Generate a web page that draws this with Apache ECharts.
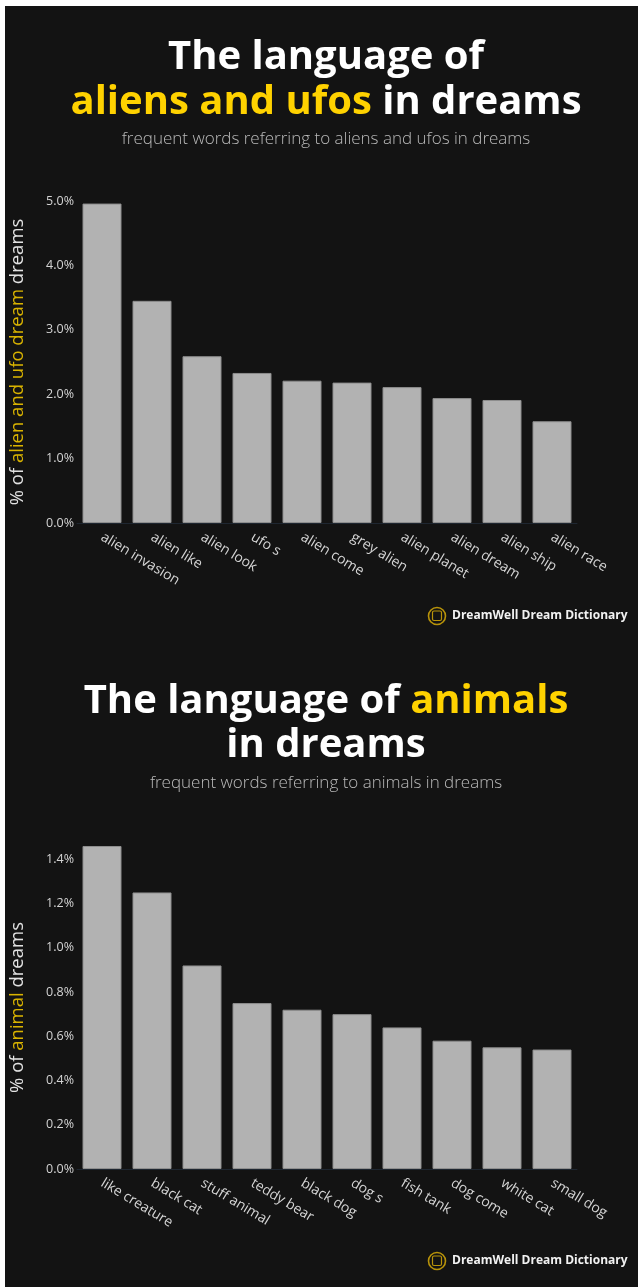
<!DOCTYPE html>
<html>
<head>
<meta charset="utf-8">
<script src="https://cdn.jsdelivr.net/npm/echarts@6/dist/echarts.min.js"></script>
<style>
  html, body { margin: 0; padding: 0; background: #ffffff; }
  #panel { position: absolute; left: 5px; top: 6px; width: 633px; height: 1281px; background: #131313; }
  #chart { position: absolute; left: 0; top: 0; width: 638px; height: 1287px; }
</style>
</head>
<body>
<div id="panel"></div>
<div id="chart"></div>
<script>
// Frequent words in alien / UFO dreams (% of those dreams)
const alienWords = ['alien invasion', 'alien like', 'alien look', 'ufo s', 'alien come',
                    'grey alien', 'alien planet', 'alien dream', 'alien ship', 'alien race'];
const alienPct = [4.96, 3.45, 2.59, 2.33, 2.21, 2.18, 2.11, 1.94, 1.91, 1.58];
const alienTicks = [0, 1, 2, 3, 4, 5];

// Frequent words in animal dreams (% of those dreams)
const animalWords = ['like creature', 'black cat', 'stuff animal', 'teddy bear', 'black dog',
                     'dog s', 'fish tank', 'dog come', 'white cat', 'small dog'];
const animalPct = [1.46, 1.25, 0.92, 0.75, 0.72, 0.70, 0.64, 0.58, 0.55, 0.54];
const animalTicks = [0, 0.2, 0.4, 0.6, 0.8, 1.0, 1.2, 1.4];

const YELLOW = '#ffd200';
const GOLD = '#d9b300';
const TEXT = '#d4d4d4';
const FONT = '"Open Sans", Lato, sans-serif';
const CX = 326;

const chart = echarts.init(document.getElementById('chart'), null, { renderer: 'canvas' });

const headRich = {
  w: { fill: '#ffffff', fontSize: 40, fontWeight: 'bold', fontFamily: FONT },
  y: { fill: YELLOW, fontSize: 40, fontWeight: 'bold', fontFamily: FONT }
};

function headLine(text, y) {
  return { type: 'text', x: CX, y, style: { text, rich: headRich, align: 'center', verticalAlign: 'middle' } };
}

function subLine(text, y) {
  return { type: 'text', x: CX, y, style: { text, fill: '#bababa', font: '300 17px ' + FONT, align: 'center', verticalAlign: 'middle' } };
}

function xAxisFor(words, gridIndex) {
  return {
    type: 'category', gridIndex, data: words,
    axisLine: { lineStyle: { color: '#1e2630', width: 1 } },
    axisTick: { show: false },
    axisLabel: { rotate: -31, margin: 13, color: TEXT, fontSize: 14, fontFamily: FONT, interval: 0 }
  };
}

function yAxisFor(ticks, gridIndex, maxVal, nameRich) {
  const step = ticks[1] - ticks[0];
  return {
    type: 'value', gridIndex, min: ticks[0], max: maxVal, interval: step,
    splitLine: { show: false },
    axisLine: { show: false },
    axisTick: { show: false },
    axisLabel: {
      showMaxLabel: maxVal === ticks[ticks.length - 1],
      margin: 3, color: TEXT, fontSize: 12.5, fontFamily: FONT,
      formatter: v => v.toFixed(1) + '%'
    },
    name: nameRich,
    nameLocation: 'middle', nameRotate: 90, nameGap: 50,
    nameTextStyle: {
      rich: {
        w: { color: '#e2e2e2', fontSize: 18.5, fontFamily: FONT },
        y: { color: GOLD, fontSize: 18.5, fontFamily: FONT }
      }
    }
  };
}

function logo(cy) {
  return {
    type: 'group', x: 428, y: cy - 10,
    children: [
      { type: 'circle', shape: { cx: 9, cy: 10, r: 8.5 }, style: { fill: 'none', stroke: '#b8930a', lineWidth: 1.6 } },
      { type: 'rect', shape: { x: 4.5, y: 5, width: 9, height: 9.5, r: 1.5 }, style: { fill: 'none', stroke: '#b8930a', lineWidth: 1.2 } },
      { type: 'text', x: 24, y: 10, style: { text: 'DreamWell Dream Dictionary', fill: '#f2f2f2', font: 'bold 12px ' + FONT, verticalAlign: 'middle' } }
    ]
  };
}

const option = {
  animation: false,
  backgroundColor: 'transparent',
  grid: [
    { left: 77, right: 61, top: 201, bottom: 764, outerBoundsMode: 'none', containLabel: false },
    { left: 77, right: 61, top: 846, bottom: 118, outerBoundsMode: 'none', containLabel: false }
  ],
  xAxis: [xAxisFor(alienWords, 0), xAxisFor(animalWords, 1)],
  yAxis: [
    yAxisFor(alienTicks, 0, 5, '{w|% of }{y|alien and ufo dream}{w| dreams}'),
    yAxisFor(animalTicks, 1, 1.46, '{w|% of }{y|animal}{w| dreams}')
  ],
  series: [
    { type: 'bar', xAxisIndex: 0, yAxisIndex: 0, data: alienPct, barCategoryGap: '22%',
      itemStyle: { color: '#b2b2b2', borderColor: '#8e8e8e', borderWidth: 1 } },
    { type: 'bar', xAxisIndex: 1, yAxisIndex: 1, data: animalPct, barCategoryGap: '22%',
      itemStyle: { color: '#b2b2b2', borderColor: '#8e8e8e', borderWidth: 1 } }
  ],
  graphic: [
    headLine('{w|The language of}', 58),
    headLine('{y|aliens and ufos}{w| in dreams}', 103),
    subLine('frequent words referring to aliens and ufos in dreams', 139),
    headLine('{w|The language of }{y|animals}', 702),
    headLine('{w|in dreams}', 746),
    subLine('frequent words referring to animals in dreams', 783),
    logo(616),
    logo(1261)
  ]
};

chart.setOption(option);
</script>
</body>
</html>
